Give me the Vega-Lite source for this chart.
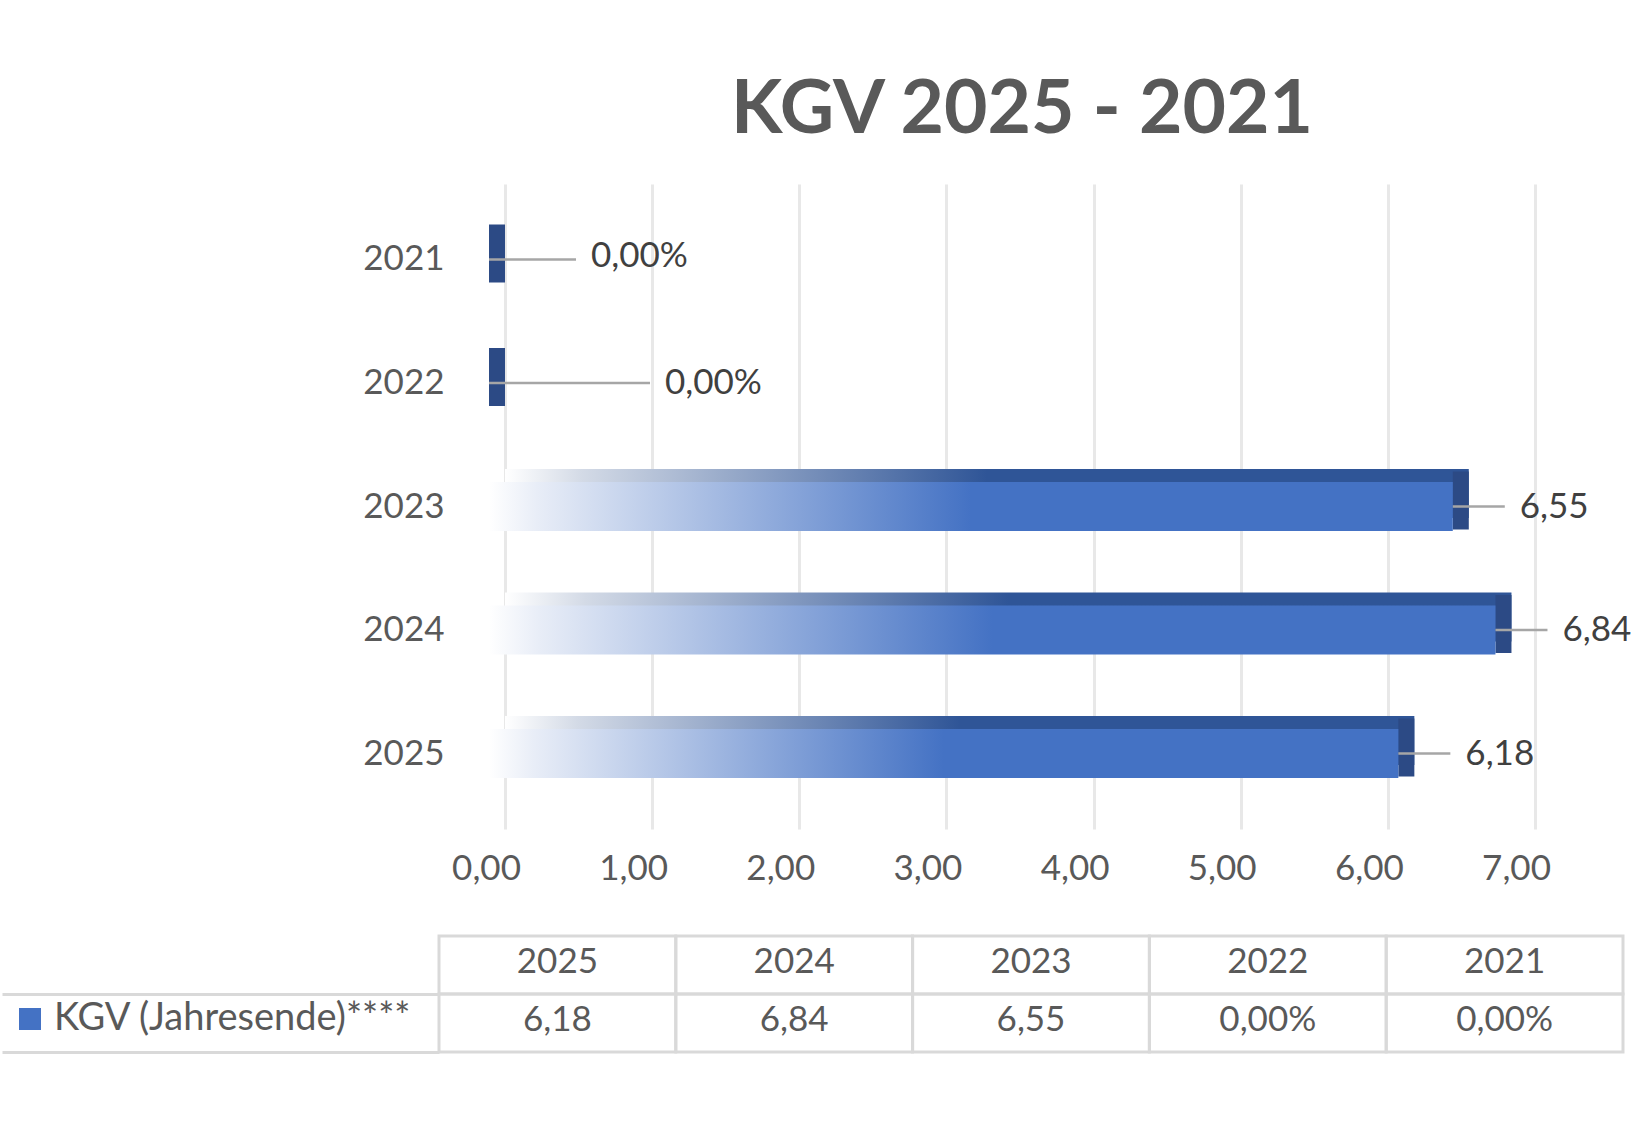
{
  "$schema": "https://vega.github.io/schema/vega-lite/v6.json",
  "background": "white",
  "padding": {"left": 0, "top": 73, "right": 0, "bottom": 0},
  "config": {"font": "Lato", "view": {"stroke": null}, "concat": {"spacing": 48}},
  "resolve": {"legend": {"color": "independent"}},
  "datasets": {
    "kgv": [
      {"year": "2025", "value": 6.18, "label": "6,18"},
      {"year": "2024", "value": 6.84, "label": "6,84"},
      {"year": "2023", "value": 6.55, "label": "6,55"},
      {"year": "2022", "value": 0, "label": "0,00%"},
      {"year": "2021", "value": 0, "label": "0,00%"}
    ]
  },
  "vconcat": [
    {
      "width": 1184,
      "height": 645,
      "title": {"text": "KGV 2025 - 2021", "fontSize": 75, "fontWeight": "bold", "color": "#595959", "anchor": "middle", "dx": -9, "offset": 35},
      "data": {"name": "kgv"},
      "encoding": {
        "y": {
          "field": "year", "type": "nominal",
          "sort": ["2021", "2022", "2023", "2024", "2025"],
          "scale": {"paddingInner": 0, "paddingOuter": 0.111},
          "axis": {"title": null, "domain": false, "ticks": false, "labelFontSize": 35, "labelColor": "#595959", "labelPadding": -5}
        }
      },
      "layer": [
        {
          "mark": {
            "type": "bar", "size": 49, "yOffset": -13,
            "color": {"gradient": "linear", "x1": 0, "y1": 0, "x2": 1, "y2": 0,
              "stops": [{"offset": 0, "color": "#ffffff"}, {"offset": 0.08, "color": "#D3DAE6"}, {"offset": 0.5, "color": "#2F5597"}, {"offset": 1, "color": "#2F5597"}]}
          },
          "encoding": {
            "x": {
              "field": "value", "type": "quantitative",
              "scale": {"domain": [-0.4486, 7.598], "nice": false, "zero": false},
              "axis": {"title": null, "values": [0, 1, 2, 3, 4, 5, 6, 7], "grid": true, "gridColor": "#E8E8E8", "gridWidth": 3, "domain": false, "ticks": false, "tickSize": 0, "labelFontSize": 35, "labelColor": "#595959", "labelPadding": 22, "labelOffset": -19, "labelFlush": false, "labelExpr": "replace(format(datum.value, '.2f'), '.', ',')"}
            },
            "x2": {"datum": 0}
          }
        },
        {
          "mark": {"type": "bar", "size": 58, "yOffset": -6, "xOffset": -16, "x2Offset": 0, "color": "#2C4A85"},
          "encoding": {"x": {"field": "value", "type": "quantitative"}, "x2": {"field": "value"}}
        },
        {
          "mark": {
            "type": "bar", "size": 49, "xOffset": -16, "x2Offset": -16,
            "color": {"gradient": "linear", "x1": 0, "y1": 0, "x2": 1, "y2": 0,
              "stops": [{"offset": 0, "color": "#ffffff"}, {"offset": 0.05, "color": "#E8EDF7"}, {"offset": 0.5, "color": "#4472C4"}, {"offset": 1, "color": "#4472C4"}]}
          },
          "encoding": {"x": {"field": "value", "type": "quantitative"}, "x2": {"datum": 0}}
        },
        {
          "transform": [{"filter": "datum.value > 0"}],
          "mark": {"type": "rule", "xOffset": -16, "x2Offset": 36, "color": "#A6A6A6", "strokeWidth": 2.5},
          "encoding": {"x": {"field": "value", "type": "quantitative"}, "x2": {"field": "value"}}
        },
        {
          "transform": [{"filter": "datum.year == '2021'"}],
          "mark": {"type": "rule", "xOffset": -16, "x2Offset": 71, "color": "#A6A6A6", "strokeWidth": 2.5},
          "encoding": {"x": {"field": "value", "type": "quantitative"}, "x2": {"field": "value"}}
        },
        {
          "transform": [{"filter": "datum.year == '2022'"}],
          "mark": {"type": "rule", "xOffset": -16, "x2Offset": 145, "color": "#A6A6A6", "strokeWidth": 2.5},
          "encoding": {"x": {"field": "value", "type": "quantitative"}, "x2": {"field": "value"}}
        },
        {
          "transform": [{"filter": "datum.value > 0"}],
          "mark": {"type": "text", "align": "left", "baseline": "middle", "dx": 51, "fontSize": 35, "color": "#404040"},
          "encoding": {"x": {"field": "value", "type": "quantitative"}, "text": {"field": "label"}}
        },
        {
          "transform": [{"filter": "datum.year == '2021'"}],
          "mark": {"type": "text", "align": "left", "baseline": "middle", "dx": 86, "dy": -3, "fontSize": 35, "color": "#404040"},
          "encoding": {"x": {"field": "value", "type": "quantitative"}, "text": {"field": "label"}}
        },
        {
          "transform": [{"filter": "datum.year == '2022'"}],
          "mark": {"type": "text", "align": "left", "baseline": "middle", "dx": 160, "fontSize": 35, "color": "#404040"},
          "encoding": {"x": {"field": "value", "type": "quantitative"}, "text": {"field": "label"}}
        }
      ]
    },
    {
      "width": 1184,
      "height": 116,
      "data": {"name": "kgv"},
      "encoding": {
        "x": {"field": "year", "type": "nominal", "sort": ["2025", "2024", "2023", "2022", "2021"], "scale": {"paddingInner": 0, "paddingOuter": 0}, "axis": null}
      },
      "layer": [
        {
          "mark": {"type": "rect", "fill": "white", "fillOpacity": 0, "stroke": "#D9D9D9", "strokeWidth": 3},
          "encoding": {
            "y": {"datum": "h", "type": "nominal", "scale": {"domain": ["h", "v"], "paddingInner": 0, "paddingOuter": 0},
              "axis": {"title": null, "domain": false, "labels": false, "ticks": true, "tickSize": 437, "tickColor": "#D9D9D9", "tickWidth": 3, "bandPosition": 1}}
          }
        },
        {
          "mark": {"type": "rect", "fill": "white", "fillOpacity": 0, "stroke": "#D9D9D9", "strokeWidth": 3},
          "encoding": {"y": {"datum": "v", "type": "nominal"}}
        },
        {
          "mark": {"type": "text", "align": "center", "baseline": "middle", "dy": -3, "fontSize": 35, "color": "#595959"},
          "encoding": {"y": {"datum": "h", "type": "nominal"}, "text": {"field": "year"}}
        },
        {
          "mark": {"type": "text", "align": "center", "baseline": "middle", "dy": -3, "fontSize": 35, "color": "#595959"},
          "encoding": {"y": {"datum": "v", "type": "nominal"}, "text": {"field": "label"}}
        },
        {
          "mark": {"type": "text", "fontSize": 35},
          "encoding": {
            "y": {"datum": "v", "type": "nominal"},
            "text": {"value": ""},
            "color": {"datum": "KGV (Jahresende)****", "type": "nominal", "scale": {"range": ["#4472C4"]},
              "legend": {"title": null, "orient": "none", "legendX": -428, "legendY": 64, "symbolType": "square", "symbolSize": 484, "labelFontSize": 38, "labelColor": "#595959", "labelLimit": 0, "padding": 0, "labelOffset": 5, "symbolStrokeWidth": 0}}
          }
        }
      ]
    }
  ]
}
